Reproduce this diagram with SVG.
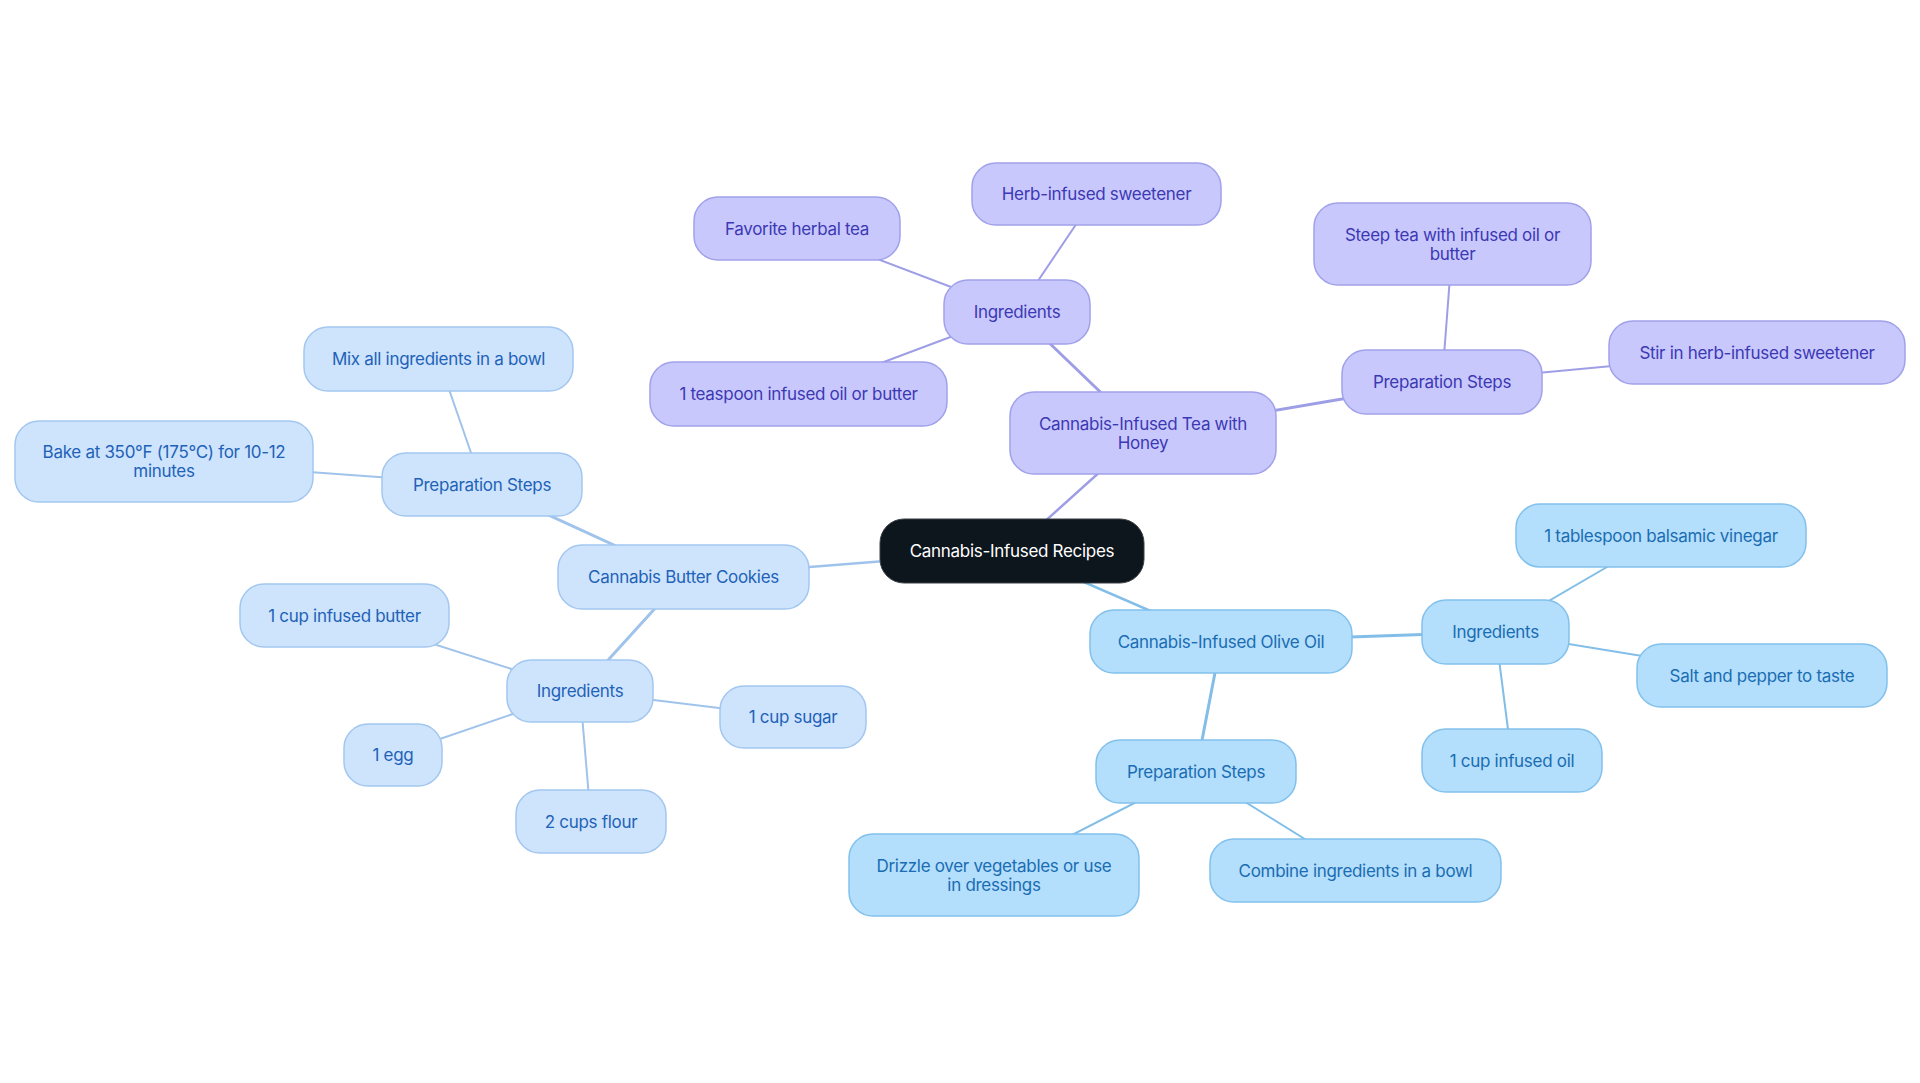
<svg xmlns="http://www.w3.org/2000/svg" width="1920" height="1083" viewBox="0 0 1920 1083">
<style>
text{font-family:Inter,"Noto Sans","Liberation Sans",sans-serif;font-size:17px;text-anchor:middle;dominant-baseline:central;letter-spacing:-0.3px}
.root rect{fill:#0d151d;stroke:#3a3f45;stroke-width:1}
.root text{fill:#ffffff}
.ca rect{fill:#cde4fc;stroke:#a3c7ef;stroke-width:1.5}
.ca text{fill:#1f62b8}
.cb rect{fill:#c8c8fd;stroke:#a1a1ea;stroke-width:1.5}
.cb text{fill:#3c38b3}
.cc rect{fill:#b3defc;stroke:#82c1ec;stroke-width:1.5}
.cc text{fill:#1a6db2}
.ea{stroke:#9fc3ea}
.eb{stroke:#9e9ee6}
.ec{stroke:#82bee8}
line{stroke-linecap:round}
.d1{stroke-width:2.5}
.d2{stroke-width:3}
.d3{stroke-width:2}
</style>
<rect width="1920" height="1083" fill="#ffffff"/>
<g id="connectors">
<line class="ea d1" x1="1012" y1="551" x2="683.5" y2="577"/>
<line class="eb d1" x1="1012" y1="551" x2="1143" y2="433"/>
<line class="ec d1" x1="1012" y1="551" x2="1221" y2="641.5"/>
<line class="ea d2" x1="683.5" y1="577" x2="482" y2="484.5"/>
<line class="ea d2" x1="683.5" y1="577" x2="580" y2="691"/>
<line class="ea d3" x1="482" y1="484.5" x2="438.5" y2="359"/>
<line class="ea d3" x1="482" y1="484.5" x2="164" y2="461.5"/>
<line class="ea d3" x1="580" y1="691" x2="344.5" y2="615.5"/>
<line class="ea d3" x1="580" y1="691" x2="793" y2="717"/>
<line class="ea d3" x1="580" y1="691" x2="393" y2="755"/>
<line class="ea d3" x1="580" y1="691" x2="591" y2="821.5"/>
<line class="eb d2" x1="1143" y1="433" x2="1017" y2="312"/>
<line class="eb d2" x1="1143" y1="433" x2="1442" y2="382"/>
<line class="eb d3" x1="1017" y1="312" x2="797" y2="228.5"/>
<line class="eb d3" x1="1017" y1="312" x2="1096.5" y2="194"/>
<line class="eb d3" x1="1017" y1="312" x2="798.5" y2="394"/>
<line class="eb d3" x1="1442" y1="382" x2="1452.5" y2="244"/>
<line class="eb d3" x1="1442" y1="382" x2="1757" y2="352.5"/>
<line class="ec d2" x1="1221" y1="641.5" x2="1495.5" y2="632"/>
<line class="ec d2" x1="1221" y1="641.5" x2="1196" y2="771.5"/>
<line class="ec d3" x1="1495.5" y1="632" x2="1661" y2="535.5"/>
<line class="ec d3" x1="1495.5" y1="632" x2="1762" y2="675.5"/>
<line class="ec d3" x1="1495.5" y1="632" x2="1512" y2="760.5"/>
<line class="ec d3" x1="1196" y1="771.5" x2="994" y2="875"/>
<line class="ec d3" x1="1196" y1="771.5" x2="1355.5" y2="870.5"/>
</g>
<g id="root" class="root"><rect x="880" y="519" width="264" height="64" rx="24"/><text x="1012" y="551">Cannabis-Infused Recipes</text></g>

<g id="cookies" class="ca"><rect x="558" y="545" width="251" height="64" rx="24"/><text x="683.5" y="577">Cannabis Butter Cookies</text></g>
<g id="cookies-prep" class="ca"><rect x="382" y="453" width="200" height="63" rx="24"/><text x="482" y="484.5">Preparation Steps</text></g>
<g id="cookies-mix" class="ca"><rect x="304" y="327" width="269" height="64" rx="24"/><text x="438.5" y="359">Mix all ingredients in a bowl</text></g>
<g id="cookies-bake" class="ca"><rect x="15" y="421" width="298" height="81" rx="24"/><text x="164" y="452">Bake at 350°F (175°C) for 10-12</text><text x="164" y="471">minutes</text></g>
<g id="cookies-ingredients" class="ca"><rect x="507" y="660" width="146" height="62" rx="24"/><text x="580" y="691">Ingredients</text></g>
<g id="cookies-butter" class="ca"><rect x="240" y="584" width="209" height="63" rx="24"/><text x="344.5" y="615.5">1 cup infused butter</text></g>
<g id="cookies-sugar" class="ca"><rect x="720" y="686" width="146" height="62" rx="24"/><text x="793" y="717">1 cup sugar</text></g>
<g id="cookies-egg" class="ca"><rect x="344" y="724" width="98" height="62" rx="24"/><text x="393" y="755">1 egg</text></g>
<g id="cookies-flour" class="ca"><rect x="516" y="790" width="150" height="63" rx="24"/><text x="591" y="821.5">2 cups flour</text></g>

<g id="tea" class="cb"><rect x="1010" y="392" width="266" height="82" rx="24"/><text x="1143" y="423.5">Cannabis-Infused Tea with</text><text x="1143" y="442.5">Honey</text></g>
<g id="tea-ingredients" class="cb"><rect x="944" y="280" width="146" height="64" rx="24"/><text x="1017" y="312">Ingredients</text></g>
<g id="tea-herbal" class="cb"><rect x="694" y="197" width="206" height="63" rx="24"/><text x="797" y="228.5">Favorite herbal tea</text></g>
<g id="tea-sweetener" class="cb"><rect x="972" y="163" width="249" height="62" rx="24"/><text x="1096.5" y="194">Herb-infused sweetener</text></g>
<g id="tea-oil" class="cb"><rect x="650" y="362" width="297" height="64" rx="24"/><text x="798.5" y="394">1 teaspoon infused oil or butter</text></g>
<g id="tea-prep" class="cb"><rect x="1342" y="350" width="200" height="64" rx="24"/><text x="1442" y="382">Preparation Steps</text></g>
<g id="tea-steep" class="cb"><rect x="1314" y="203" width="277" height="82" rx="24"/><text x="1452.5" y="234.5">Steep tea with infused oil or</text><text x="1452.5" y="253.5">butter</text></g>
<g id="tea-stir" class="cb"><rect x="1609" y="321" width="296" height="63" rx="24"/><text x="1757" y="352.5">Stir in herb-infused sweetener</text></g>

<g id="olive" class="cc"><rect x="1090" y="610" width="262" height="63" rx="24"/><text x="1221" y="641.5">Cannabis-Infused Olive Oil</text></g>
<g id="olive-ingredients" class="cc"><rect x="1422" y="600" width="147" height="64" rx="24"/><text x="1495.5" y="632">Ingredients</text></g>
<g id="olive-vinegar" class="cc"><rect x="1516" y="504" width="290" height="63" rx="24"/><text x="1661" y="535.5">1 tablespoon balsamic vinegar</text></g>
<g id="olive-salt" class="cc"><rect x="1637" y="644" width="250" height="63" rx="24"/><text x="1762" y="675.5">Salt and pepper to taste</text></g>
<g id="olive-oil" class="cc"><rect x="1422" y="729" width="180" height="63" rx="24"/><text x="1512" y="760.5">1 cup infused oil</text></g>
<g id="olive-prep" class="cc"><rect x="1096" y="740" width="200" height="63" rx="24"/><text x="1196" y="771.5">Preparation Steps</text></g>
<g id="olive-drizzle" class="cc"><rect x="849" y="834" width="290" height="82" rx="24"/><text x="994" y="865.5">Drizzle over vegetables or use</text><text x="994" y="884.5">in dressings</text></g>
<g id="olive-combine" class="cc"><rect x="1210" y="839" width="291" height="63" rx="24"/><text x="1355.5" y="870.5">Combine ingredients in a bowl</text></g>
</svg>
